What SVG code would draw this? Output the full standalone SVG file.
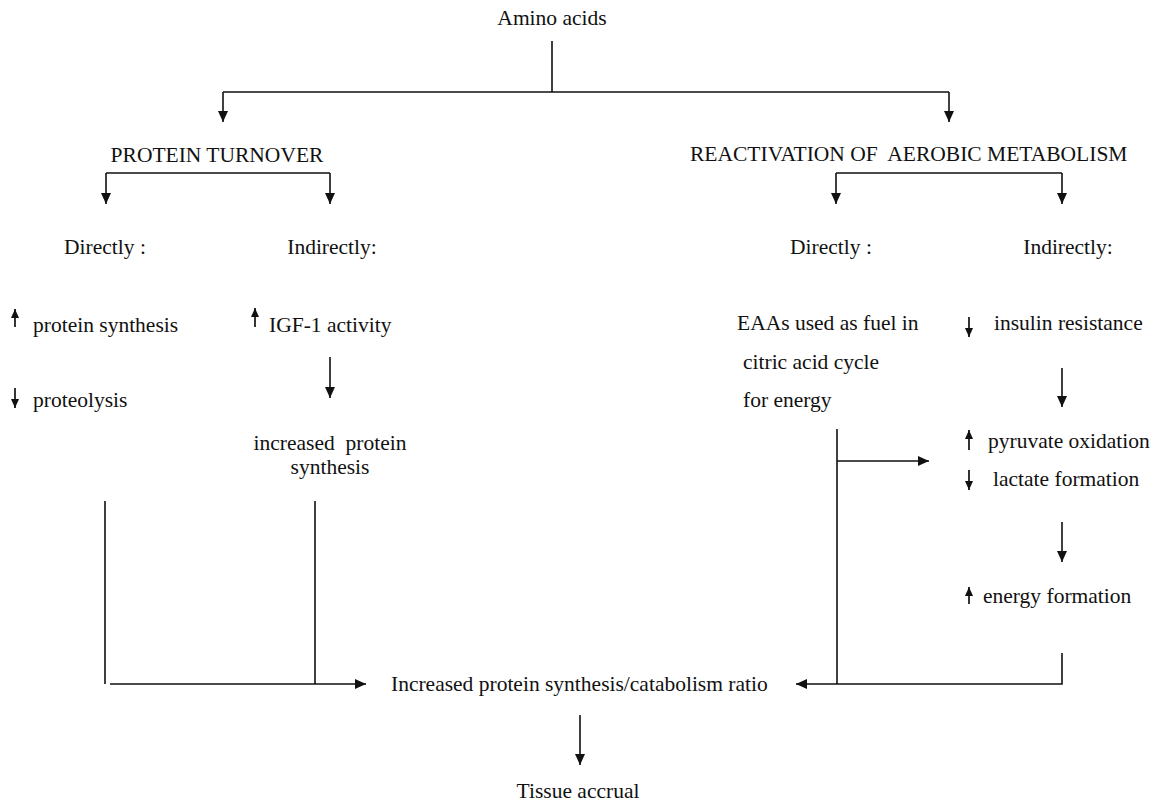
<svg xmlns="http://www.w3.org/2000/svg" width="1155" height="804" viewBox="0 0 1155 804">
<style>
text{font-family:"Liberation Serif","Times New Roman",serif;font-size:21.5px;fill:#111;white-space:pre}
.c{text-anchor:middle}
.ln{fill:none;stroke:#111;stroke-width:1.6}
.sm{fill:none;stroke:#111;stroke-width:1.7}
</style>
<defs>
<marker id="ah" markerUnits="userSpaceOnUse" markerWidth="12" markerHeight="11" refX="11" refY="5" orient="auto">
<path d="M0,0 L11,5 L0,10 z" fill="#111"/>
</marker>
<marker id="as" markerUnits="userSpaceOnUse" markerWidth="10" markerHeight="9" refX="9" refY="4" orient="auto">
<path d="M0,0 L9,4 L0,8 z" fill="#111"/>
</marker>
</defs>
<rect width="1155" height="804" fill="#fff"/>
<g id="connectors">
<path class="ln" d="M552,41 V92 M223,92 H949"/>
<path class="ln" d="M223,92 V122" marker-end="url(#ah)"/>
<path class="ln" d="M949,92 V122" marker-end="url(#ah)"/>
<path class="ln" d="M106,173 H330"/>
<path class="ln" d="M106,173 V204" marker-end="url(#ah)"/>
<path class="ln" d="M330,173 V204" marker-end="url(#ah)"/>
<path class="ln" d="M836,173 H1062"/>
<path class="ln" d="M836,173 V204" marker-end="url(#ah)"/>
<path class="ln" d="M1062,173 V204" marker-end="url(#ah)"/>
<path class="ln" d="M330,357 V398" marker-end="url(#ah)"/>
<path class="ln" d="M1062,368 V407" marker-end="url(#ah)"/>
<path class="ln" d="M1062,522 V562" marker-end="url(#ah)"/>
<path class="ln" d="M105,501 V684 M315,501 V684"/>
<path class="ln" d="M110,684 H366" marker-end="url(#ah)"/>
<path class="ln" d="M837,429 V684"/>
<path class="ln" d="M837,461 H929" marker-end="url(#ah)"/>
<path class="ln" d="M1062,653 V684 H796" marker-end="url(#ah)"/>
<path class="ln" d="M580,715 V765" marker-end="url(#ah)"/>
</g>
<g id="amino"><text class="c" x="552" y="25">Amino acids</text></g>
<g id="protein-turnover"><text class="c" x="217" y="162">PROTEIN TURNOVER</text></g>
<g id="reactivation"><text x="690" y="161">REACTIVATION OF  AEROBIC METABOLISM</text></g>
<g id="pt-directly"><text class="c" x="105" y="254">Directly :</text></g>
<g id="pt-indirectly"><text class="c" x="332" y="254">Indirectly:</text></g>
<g id="ra-directly"><text class="c" x="831" y="254">Directly :</text></g>
<g id="ra-indirectly"><text class="c" x="1068" y="254">Indirectly:</text></g>
<g id="protein-synthesis">
<path class="sm" d="M15,327 V309" marker-end="url(#as)"/>
<text x="33" y="332">protein synthesis</text>
</g>
<g id="proteolysis">
<path class="sm" d="M15,388 V408" marker-end="url(#as)"/>
<text x="33" y="407">proteolysis</text>
</g>
<g id="igf1">
<path class="sm" d="M255,327 V308" marker-end="url(#as)"/>
<text x="269" y="332">IGF-1 activity</text>
</g>
<g id="increased-protein-synthesis">
<text class="c" x="330" y="450">increased  protein</text>
<text class="c" x="330" y="474">synthesis</text>
</g>
<g id="eaas">
<text x="737" y="330">EAAs used as fuel in</text>
<text x="743" y="369">citric acid cycle</text>
<text x="743" y="407">for energy</text>
</g>
<g id="insulin">
<path class="sm" d="M969,317 V337" marker-end="url(#as)"/>
<text x="994" y="330">insulin resistance</text>
</g>
<g id="pyruvate-lactate">
<path class="sm" d="M969,450 V430" marker-end="url(#as)"/>
<text x="988" y="448">pyruvate oxidation</text>
<path class="sm" d="M969,470 V490" marker-end="url(#as)"/>
<text x="993" y="486">lactate formation</text>
</g>
<g id="energy">
<path class="sm" d="M969,604 V587" marker-end="url(#as)"/>
<text x="983" y="603">energy formation</text>
</g>
<g id="ratio"><text x="391" y="691">Increased protein synthesis/catabolism ratio</text></g>
<g id="tissue"><text class="c" x="578" y="798">Tissue accrual</text></g>
</svg>
